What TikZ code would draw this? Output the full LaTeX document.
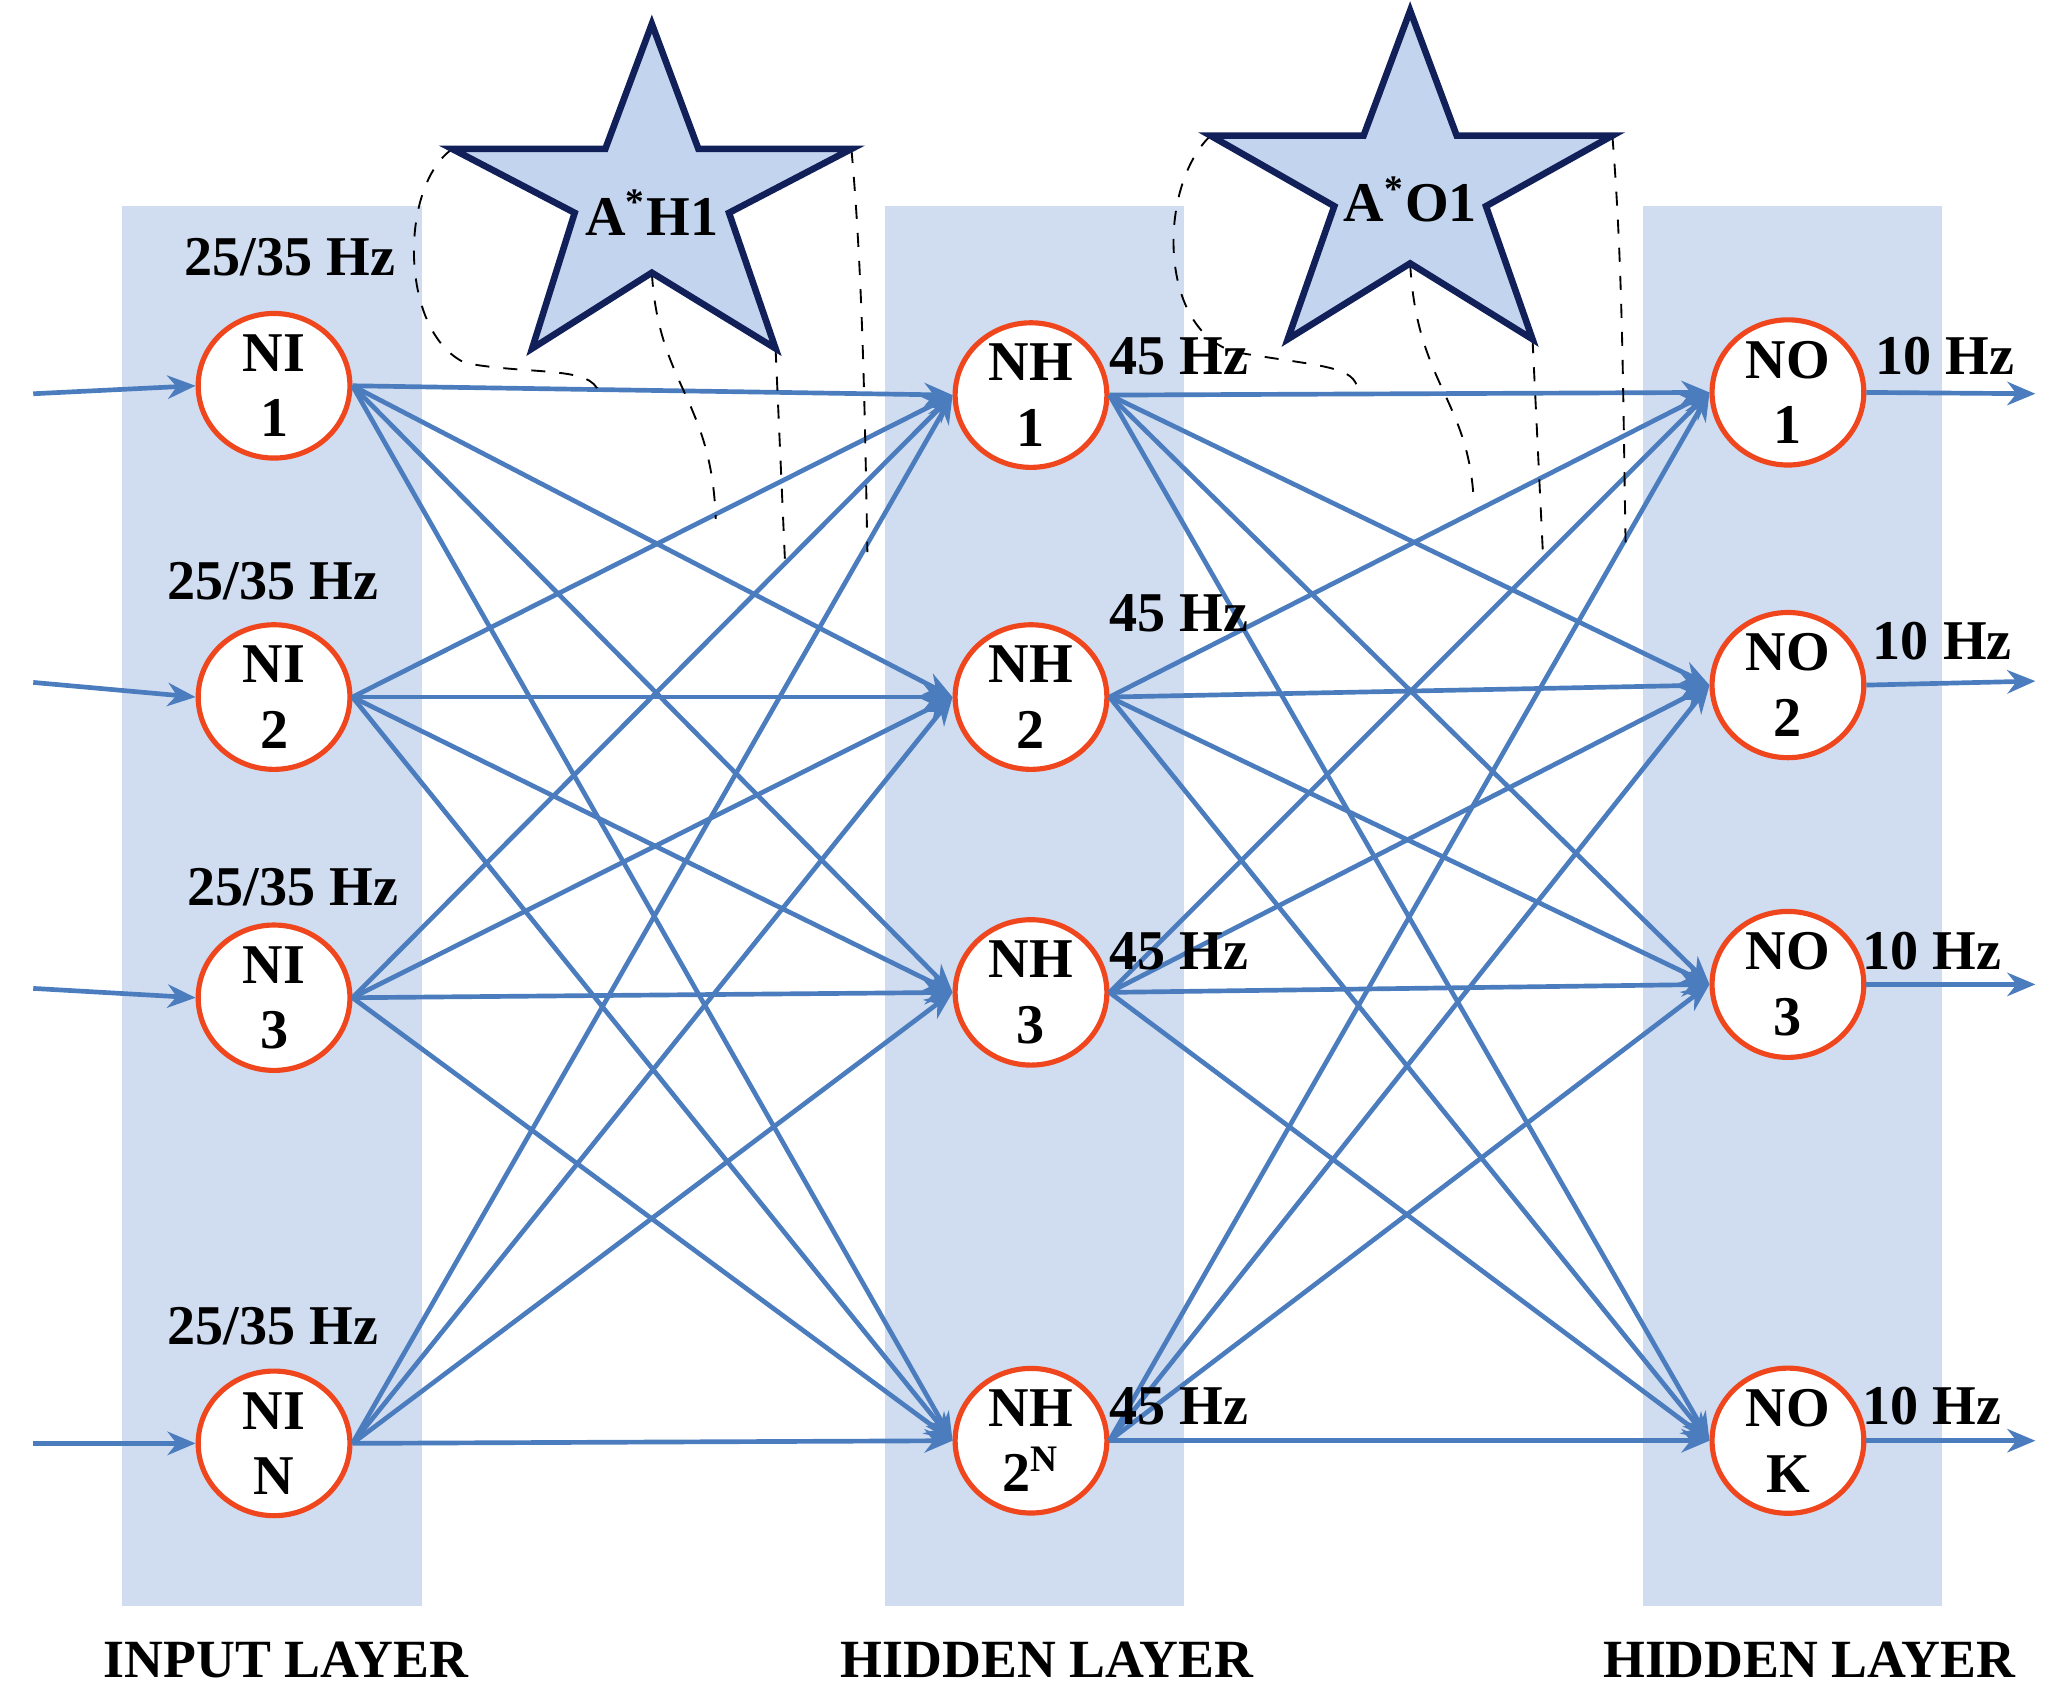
\documentclass[tikz,border=0pt]{standalone}
\usepackage{fontspec}
\setmainfont{Liberation Serif}
\usetikzlibrary{shapes.geometric,arrows.meta}
\definecolor{edge}{RGB}{74,124,190}
\definecolor{band}{RGB}{208,220,240}
\definecolor{nodered}{RGB}{240,70,30}
\definecolor{starfill}{RGB}{194,212,238}
\definecolor{starline}{RGB}{18,32,90}
\begin{document}
\begin{tikzpicture}[x=0.01cm,y=-0.01cm,
  neuron/.style={ellipse,draw=nodered,line width=1.1pt,fill=white,minimum width=1.14cm,minimum height=1.04cm,inner sep=0pt,align=center,font=\fontsize{12}{14}\selectfont\bfseries},
  conn/.style={draw=edge,line width=1pt,-{Stealth[length=6pt,width=5pt]}},
  lbl/.style={font=\fontsize{12}{14}\selectfont\bfseries},
  ttl/.style={font=\fontsize{11.5}{14}\selectfont\bfseries},
  callout/.style={dashed,line width=0.4pt,black},
  star/.style={draw=starline,fill=starfill,line width=1.4pt,line join=miter}]
\useasboundingbox (0,0) rectangle (1550,1279.4);
% bands
\fill[band] (92,155) rectangle (317,1207);
\fill[band] (665,155) rectangle (890,1207);
\fill[band] (1235,155) rectangle (1460,1207);
% nodes
\node[neuron] (i1) at (206,290) {NI\\1};
\node[neuron] (i2) at (206,524) {NI\\2};
\node[neuron] (i3) at (206,750) {NI\\3};
\node[neuron] (i4) at (206,1085) {NI\\N};
\node[neuron] (h1) at (775,297) {NH\\1};
\node[neuron] (h2) at (775,524) {NH\\2};
\node[neuron] (h3) at (775,746) {NH\\3};
\node[neuron] (h4) at (775,1083) {NH\\2\textsuperscript{N}};
\node[neuron] (o1) at (1344,295) {NO\\1};
\node[neuron] (o2) at (1344,515) {NO\\2};
\node[neuron] (o3) at (1344,740) {NO\\3};
\node[neuron] (o4) at (1344,1083) {NO\\K};
% external coordinates
\coordinate (a1) at (25,296);
\coordinate (a2) at (25,513);
\coordinate (a3) at (25,743);
\coordinate (a4) at (25,1085);
\coordinate (b1) at (1530,296);
\coordinate (b2) at (1530,512);
\coordinate (b3) at (1530,740);
\coordinate (b4) at (1530,1083);
\foreach \k in {1,2,3,4}{
  \draw[conn] (a\k) -- (i\k.west);
  \draw[conn] (o\k.east) -- (b\k);
  \foreach \j in {1,2,3,4}{
    \draw[conn] (i\k.east) -- (h\j.west);
    \draw[conn] (h\k.east) -- (o\j.west);
  }
}
% labels
\node[lbl] (l1) at (218,193) {25/35 Hz};
\node[lbl] (l2) at (205,437) {25/35 Hz};
\node[lbl] (l3) at (220,667) {25/35 Hz};
\node[lbl] (l4) at (205,997) {25/35 Hz};
\node[lbl] (m1) at (886,268) {45 Hz};
\node[lbl] (m2) at (886,461) {45 Hz};
\node[lbl] (m3) at (886,715) {45 Hz};
\node[lbl] (m4) at (886,1057) {45 Hz};
\node[lbl] (n1) at (1462,268) {10 Hz};
\node[lbl] (n2) at (1460,482) {10 Hz};
\node[lbl] (n3) at (1452,715) {10 Hz};
\node[lbl] (n4) at (1452,1057) {10 Hz};
\node[ttl] (t1) at (215,1248) {INPUT LAYER};
\node[ttl] (t2) at (787,1248) {HIDDEN LAYER};
\node[ttl] (t3) at (1360,1248) {HIDDEN LAYER};
% dashed callouts
\draw[callout] (340,112) .. controls (300,140) and (300,250) .. (350,273) .. controls (400,282) and (445,275) .. (450,295);
\draw[callout] (490,205) .. controls (495,290) and (535,300) .. (538,390);
\draw[callout] (583,262) -- (590,420);
\draw[callout] (640,112) .. controls (648,200) and (650,300) .. (652,415);
\draw[callout] (910,102) .. controls (870,140) and (870,250) .. (930,265) .. controls (990,275) and (1015,275) .. (1020,290);
\draw[callout] (1060,198) .. controls (1065,290) and (1105,300) .. (1108,380);
\draw[callout] (1152,255) -- (1160,420);
\draw[callout] (1212,102) .. controls (1220,200) and (1220,300) .. (1222,410);
% stars
\draw[star] (490,18) -- (525,112) -- (640,112) -- (548,160) -- (583,262) -- (490,205) -- (400,262) -- (432,160) -- (340,112) -- (455,112) -- cycle;
\node[lbl] (s1) at (490,160) {A\textsuperscript{*}H1};
\draw[star] (1060,8) -- (1095,102) -- (1212,102) -- (1117,155) -- (1152,255) -- (1060,198) -- (968,255) -- (1003,155) -- (910,102) -- (1025,102) -- cycle;
\node[lbl] (s2) at (1060,150) {A\textsuperscript{*}O1};
\end{tikzpicture}
\end{document}
